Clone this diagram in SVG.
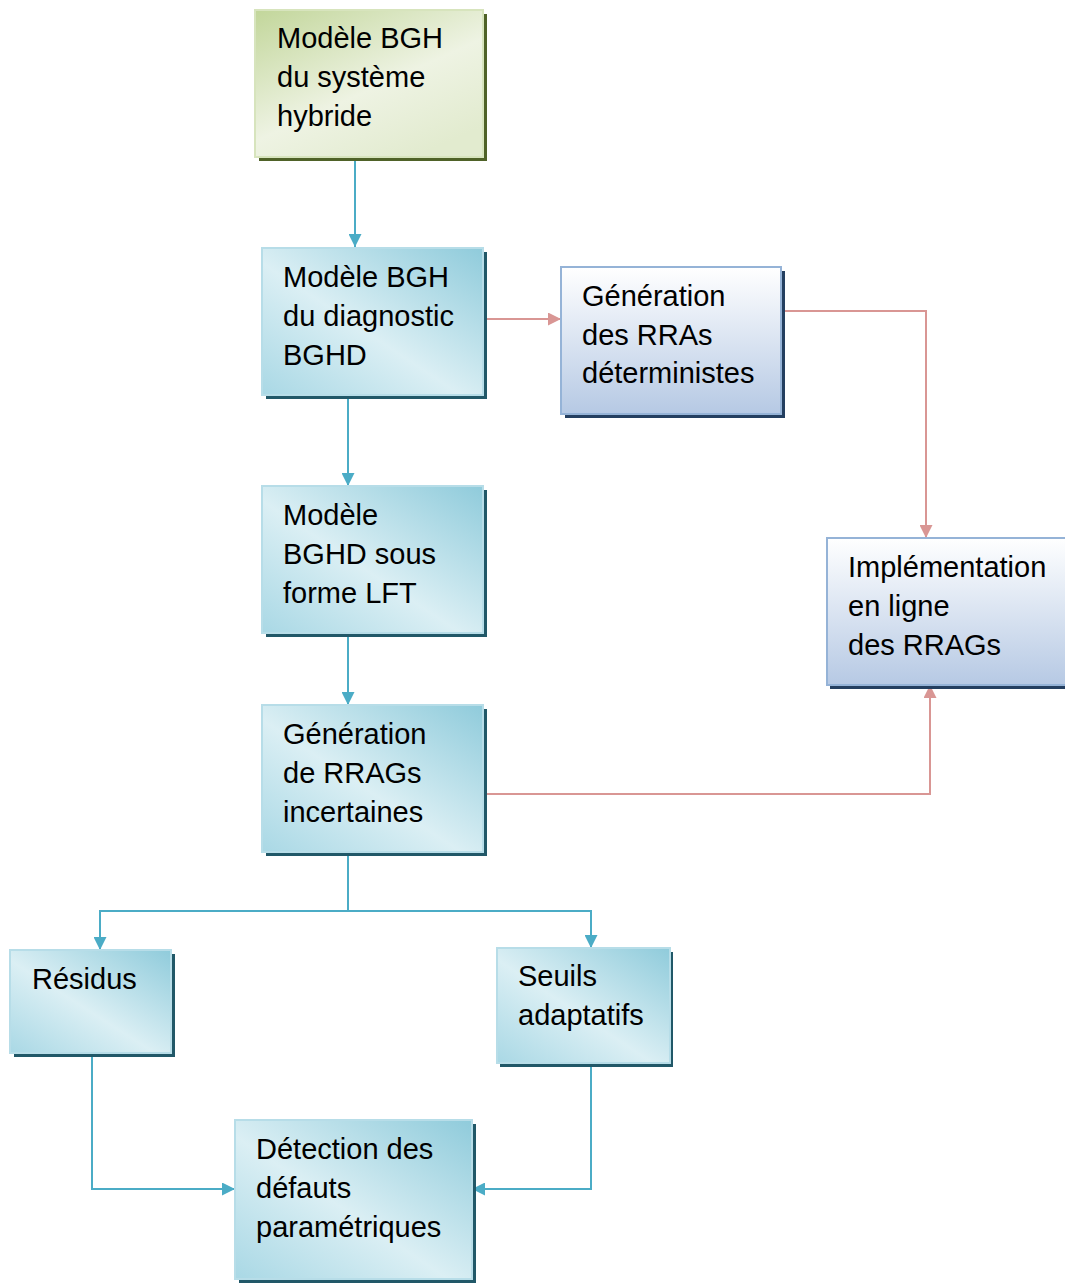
<svg xmlns="http://www.w3.org/2000/svg" width="1065" height="1284" viewBox="0 0 1065 1284">
<defs>
<linearGradient id="gGreen" x1="0" y1="0" x2="0.7" y2="1">
<stop offset="0" stop-color="#c2d69a"/>
<stop offset="0.6" stop-color="#eef3e3"/>
<stop offset="1" stop-color="#e2ebcf"/>
</linearGradient>
<linearGradient id="gBlue" x1="1" y1="0" x2="0" y2="1">
<stop offset="0" stop-color="#8fcbdb"/>
<stop offset="0.55" stop-color="#dbeff4"/>
<stop offset="1" stop-color="#a9d8e5"/>
</linearGradient>
<linearGradient id="gPurple" x1="0" y1="0" x2="0" y2="1">
<stop offset="0" stop-color="#ffffff"/>
<stop offset="1" stop-color="#b6c9e4"/>
</linearGradient>
<marker id="aBlue" markerUnits="userSpaceOnUse" markerWidth="13" markerHeight="13" refX="13" refY="6.5" orient="auto">
<path d="M0,0 L13,6.5 L0,13 z" fill="#4bacc6"/>
</marker>
<marker id="aRed" markerUnits="userSpaceOnUse" markerWidth="13" markerHeight="13" refX="13" refY="6.5" orient="auto">
<path d="M0,0 L13,6.5 L0,13 z" fill="#d99694"/>
</marker>
</defs>
<style>
text{font-family:"Liberation Sans",Arial,sans-serif;font-size:29px;fill:#000}
.green{fill:url(#gGreen);stroke:#d7e4bd;stroke-width:2}
.greenS{fill:#4f6228}
.blue{fill:url(#gBlue);stroke:#b7dde8;stroke-width:2}
.blueS{fill:#215868}
.purple{fill:url(#gPurple);stroke:#95b3d7;stroke-width:2}
.purpleS{fill:#243f60}
.cb{fill:none;stroke:#4bacc6;stroke-width:2}
.cr{fill:none;stroke:#d99694;stroke-width:2}
</style>
<rect width="1065" height="1284" fill="#ffffff"/>
<g id="connectors">
<path class="cb" d="M355,157 V247" marker-end="url(#aBlue)"/>
<path class="cb" d="M348,395 V486" marker-end="url(#aBlue)"/>
<path class="cb" d="M348,633 V705" marker-end="url(#aBlue)"/>
<path class="cb" d="M348,852 V911 H100 V950" marker-end="url(#aBlue)"/>
<path class="cb" d="M348,911 H591 V948" marker-end="url(#aBlue)"/>
<path class="cb" d="M92,1053 V1189 H235" marker-end="url(#aBlue)"/>
<path class="cb" d="M591,1063 V1189 H472" marker-end="url(#aBlue)"/>
<path class="cr" d="M483,319 H561" marker-end="url(#aRed)"/>
<path class="cr" d="M781,311 H926 V538" marker-end="url(#aRed)"/>
<path class="cr" d="M483,794 H930 V685" marker-end="url(#aRed)"/>
</g>
<g id="n1">
<rect class="greenS" x="259" y="14" width="228" height="147"/>
<rect class="green" x="255" y="10" width="228" height="147"/>
<text x="277" y="48">Modèle BGH</text>
<text x="277" y="87">du système</text>
<text x="277" y="126">hybride</text>
</g>
<g id="n2">
<rect class="blueS" x="266" y="252" width="221" height="147"/>
<rect class="blue" x="262" y="248" width="221" height="147"/>
<text x="283" y="287">Modèle BGH</text>
<text x="283" y="326">du diagnostic</text>
<text x="283" y="365">BGHD</text>
</g>
<g id="n3">
<rect class="purpleS" x="565" y="271" width="220" height="147"/>
<rect class="purple" x="561" y="267" width="220" height="147"/>
<text x="582" y="306">Génération</text>
<text x="582" y="345">des RRAs</text>
<text x="582" y="383">déterministes</text>
</g>
<g id="n4">
<rect class="blueS" x="266" y="490" width="221" height="147"/>
<rect class="blue" x="262" y="486" width="221" height="147"/>
<text x="283" y="525">Modèle</text>
<text x="283" y="564">BGHD sous</text>
<text x="283" y="603">forme LFT</text>
</g>
<g id="n5">
<rect class="purpleS" x="830" y="542" width="240" height="147"/>
<rect class="purple" x="827" y="538" width="240" height="147"/>
<text x="848" y="577">Implémentation</text>
<text x="848" y="616">en ligne</text>
<text x="848" y="655">des RRAGs</text>
</g>
<g id="n6">
<rect class="blueS" x="266" y="709" width="221" height="147"/>
<rect class="blue" x="262" y="705" width="221" height="147"/>
<text x="283" y="744">Génération</text>
<text x="283" y="783">de RRAGs</text>
<text x="283" y="822">incertaines</text>
</g>
<g id="n7">
<rect class="blueS" x="14" y="954" width="161" height="103"/>
<rect class="blue" x="10" y="950" width="161" height="103"/>
<text x="32" y="989">Résidus</text>
</g>
<g id="n8">
<rect class="blueS" x="500" y="952" width="173" height="115"/>
<rect class="blue" x="497" y="948" width="173" height="115"/>
<text x="518" y="986">Seuils</text>
<text x="518" y="1025">adaptatifs</text>
</g>
<g id="n9">
<rect class="blueS" x="239" y="1124" width="237" height="159"/>
<rect class="blue" x="235" y="1120" width="237" height="159"/>
<text x="256" y="1159">Détection des</text>
<text x="256" y="1198">défauts</text>
<text x="256" y="1237">paramétriques</text>
</g>
</svg>
